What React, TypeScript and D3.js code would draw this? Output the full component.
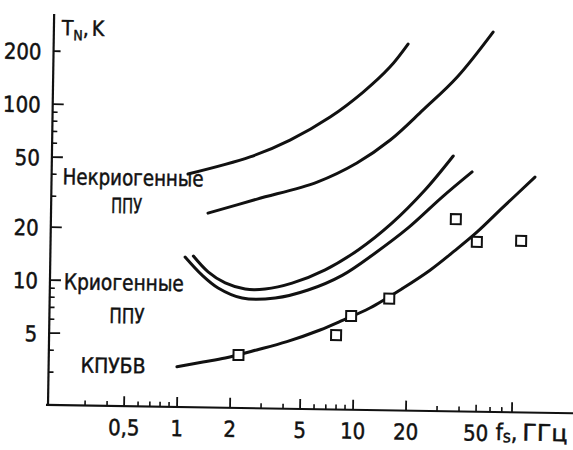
import React from "react";
import * as d3 from "d3";

const W = 573;
const H = 450;

// Noise temperature T_N (K) against signal frequency f_s (GHz)
const nonCryoUpperF = [1.1, 2.47, 4.15, 6.98, 10.7, 15.1, 19.05];
const nonCryoUpperT = [41.2, 52.2, 65.6, 89.4, 124.8, 174, 236];
const nonCryoLowerF = [1.44, 2.73, 5.97, 10.0, 15.4, 23.5, 36.5, 57.8];
const nonCryoLowerT = [24.8, 30.1, 38.1, 49.3, 67, 100, 155, 281];
const cryoInnerF = [1.2, 1.46, 1.83, 2.38, 3.09, 4.39, 6.75, 10.35, 16.0, 24.5, 35.2];
const cryoInnerT = [14.1, 11.5, 9.98, 9.26, 9.3, 10.1, 12.1, 15.8, 22.6, 35.1, 55.1];
const cryoOuterF = [1.077, 1.35, 1.67, 2.29, 3.53, 5.42, 8.44, 12.9, 19.8, 30.7, 45.2];
const cryoOuterT = [13.9, 11.0, 9.33, 8.22, 8.28, 9.26, 11.3, 15.2, 21.3, 32.1, 44.9];
const kpubvF = [0.99, 1.39, 1.86, 2.8, 4.15, 6.39, 8.63, 12.2, 18.8, 26.6, 35.9, 48.9, 68.3, 103];
const kpubvT = [3.3, 3.53, 3.74, 4.18, 4.69, 5.5, 6.29, 7.41, 9.69, 12.3, 15.7, 20.5, 28.5, 42.5];
const measuredF = [2.21, 7.89, 9.57, 15.7, 36.9, 48.8, 87.1];
const measuredT = [3.9, 5.16, 6.65, 8.41, 24.1, 18.0, 18.4];

// Axis ticks
const yMajorTicks = [5, 10, 20, 50, 100, 200];
const yTickLabels = ["5", "10", "20", "50", "100", "200"];
const yMinorTicks = [3, 4, 6, 7, 8, 9, 30, 40, 60, 70, 80, 90];
const xLongTicks = [0.5, 1, 2, 5, 10, 20, 80];
const xShortTicks = [0.3, 0.4, 0.6, 0.7, 0.8, 0.9, 3, 4, 6, 7, 8, 9, 30, 40, 50, 60, 70];
const xLabelValues = [0.5, 1, 2, 5, 10, 20, 50];
const xTickLabels = ["0,5", "1", "2", "5", "10", "20", "50"];

const FONT = "'DejaVu Sans Condensed', 'DejaVu Sans', sans-serif";
const INK = "#111";

export default function App() {
  const ox = 48;
  const oy = 405;
  const x = d3.scaleLog().domain([0.18, 180]).range([46, 574]);
  const y = d3.scaleLog().domain([1.95, 325]).range([oy, 14]);

  const line = d3
    .line<[number, number]>()
    .x((d) => x(d[0]))
    .y((d) => y(d[1]))
    .curve(d3.curveCatmullRom.alpha(0.5));

  const zip = (f: number[], t: number[]) => f.map((v, i) => [v, t[i]] as [number, number]);
  const curves = [
    zip(nonCryoUpperF, nonCryoUpperT),
    zip(nonCryoLowerF, nonCryoLowerT),
    zip(cryoInnerF, cryoInnerT),
    zip(cryoOuterF, cryoOuterT),
    zip(kpubvF, kpubvT),
  ];

  const sq = 10;
  const textStyle = { fontStretch: "condensed" as const };

  return (
    <svg
      width={W}
      height={H}
      viewBox={`0 0 ${W} ${H}`}
      style={{ position: "absolute", left: 0, top: 0, background: "#fff" }}
    >
      <rect width={W} height={H} fill="#fff" />
      <g transform={`rotate(0.9 ${ox} ${oy})`} fontFamily={FONT} fill={INK} style={textStyle}>
        {/* axes */}
        <line x1={ox} y1={14} x2={ox} y2={oy} stroke={INK} strokeWidth={2.2} />
        <line x1={46} y1={oy} x2={574} y2={oy} stroke={INK} strokeWidth={2.2} />

        {yMajorTicks.map((v) => (
          <line key={"ym" + v} x1={ox} x2={ox + (v === 200 ? 7 : 11)} y1={y(v)} y2={y(v)} stroke={INK} strokeWidth={1.8} />
        ))}
        {yMinorTicks.map((v) => (
          <line key={"yn" + v} x1={ox} x2={ox + 5} y1={y(v)} y2={y(v)} stroke={INK} strokeWidth={1.6} />
        ))}
        {xLongTicks.map((v) => (
          <line key={"xl" + v} x1={x(v)} x2={x(v)} y1={oy} y2={oy - 10} stroke={INK} strokeWidth={1.8} />
        ))}
        {xShortTicks.map((v) => (
          <line key={"xs" + v} x1={x(v)} x2={x(v)} y1={oy} y2={oy - (v === 50 ? 7 : 5)} stroke={INK} strokeWidth={1.6} />
        ))}

        <g stroke={INK} strokeWidth={0.45}>
          {yMajorTicks.map((v, i) => (
            <text key={"yt" + v} x={36} y={y(v) + 8.5} fontSize={22} textAnchor="end">
              {yTickLabels[i]}
            </text>
          ))}
          {xLabelValues.map((v, i) => (
            <text key={"xt" + v} x={x(v)} y={434} fontSize={22} textAnchor="middle">
              {xTickLabels[i]}
            </text>
          ))}

          {/* axis titles */}
          <text x={56} y={35} fontSize={21}>
            T<tspan fontSize={14} dy={5}>N</tspan>
            <tspan dy={-5}>,</tspan>
            <tspan dx={3}>K</tspan>
          </text>
          <text x={496} y={433} fontSize={23}>
            f<tspan fontSize={17} dy={2}>s</tspan>
            <tspan dy={-2}>,</tspan>
            <tspan dx={5} textLength={45} lengthAdjust="spacingAndGlyphs">ГГц</tspan>
          </text>

          {/* curve annotations */}
          <text x={59} y={184} fontSize={22} textLength={141} lengthAdjust="spacingAndGlyphs">Некриогенные</text>
          <text x={108} y={212} fontSize={21} textLength={31} lengthAdjust="spacingAndGlyphs">ППУ</text>
          <text x={62} y={289} fontSize={22} textLength={120} lengthAdjust="spacingAndGlyphs">Криогенные</text>
          <text x={108} y={322} fontSize={21} textLength={35} lengthAdjust="spacingAndGlyphs">ППУ</text>
          <text x={80} y={372} fontSize={21} textLength={65} lengthAdjust="spacingAndGlyphs">КПУБВ</text>
        </g>

        {/* curves */}
        {curves.map((c, i) => (
          <path key={"c" + i} d={line(c) || ""} fill="none" stroke={INK} strokeWidth={3} strokeLinecap="round" />
        ))}

        {/* measured points */}
        {measuredF.map((f, i) => (
          <rect
            key={"m" + i}
            x={x(f) - sq / 2}
            y={y(measuredT[i]) - sq / 2}
            width={sq}
            height={sq}
            fill="#fff"
            stroke={INK}
            strokeWidth={2}
          />
        ))}
      </g>
    </svg>
  );
}
